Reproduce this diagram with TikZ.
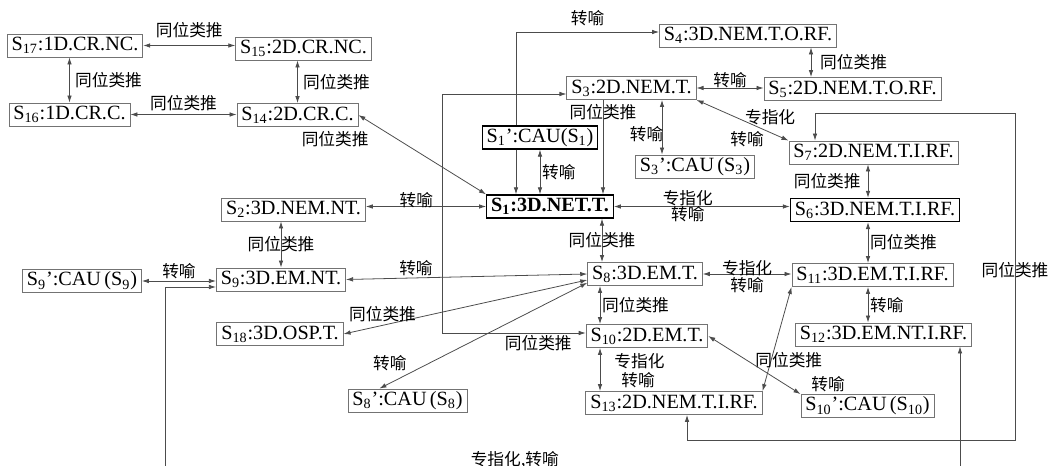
\documentclass[tikz,border=0pt]{standalone}
\usepackage{fontspec}
\setmainfont{Liberation Serif}
\newfontfamily\cjk{Noto Sans CJK SC}
\usetikzlibrary{arrows.meta}

\begin{document}
\begin{tikzpicture}[x=0.02cm,y=-0.02cm,>={Latex[length=4pt,width=2.6pt]},
			box/.style={
				draw=black!55,
				line width=0.5pt,
				inner xsep=2.5pt,
				inner ysep=0pt,
				minimum height=0.46cm,
				font=\fontsize{11.5}{13}\selectfont
			},
			keybox/.style={box,draw=black,line width=0.75pt},
			lbl/.style={inner sep=1pt,font=\cjk\fontsize{9.5}{11}\selectfont},
			link/.style={<->,draw=black!70,line width=0.45pt}]
			
			\useasboundingbox (0,0) rectangle (1051,466);
			
			\node[box](s17) at (75,45.5){S\textsubscript{17}:1D.CR.NC.};
			
			\node[box](s15) at (303.5,48.5){S\textsubscript{15}:2D.CR.NC.};
			
			\node[box](s16) at (69.5,114.5){S\textsubscript{16}:1D.CR.C.};
			
			\node[box](s14) at (297.5,115){S\textsubscript{14}:2D.CR.C.};
			
			\node[box](s4) at (748,35.5){S\textsubscript{4}:3D.NEM.T.O.RF.};
			
			\node[box](s5) at (852.5,89){S\textsubscript{5}:2D.NEM.T.O.RF.};
			
			\node[box](s3) at (631.5,88){S\textsubscript{3}:2D.NEM.T.};
			
			\node[keybox](s1p) at (540,137.5){S\textsubscript{1}’:CAU(S\textsubscript{1})};
			
			\node[box](s3p) at (695,166.5){S\textsubscript{3}’:CAU\,(S\textsubscript{3})};
			
			\node[box](s7) at (873.5,152.5){S\textsubscript{7}:2D.NEM.T.I.RF.};
			
			\node[keybox](s6) at (875,210){S\textsubscript{6}:3D.NEM.T.I.RF.};
			
			\node[keybox](s1) at (550,206.5){\textbf{S\textsubscript{1}:3D.NET.T.}};
			
			\node[box](s2) at (293.5,209.5){S\textsubscript{2}:3D.NEM.NT.};
			
			\node[box](s9p) at (82,281){S\textsubscript{9}’:CAU\,(S\textsubscript{9})};
			
			\node[box](s9) at (281,279.5){S\textsubscript{9}:3D.EM.NT.};
			
			\node[box](s18) at (280,334){S\textsubscript{18}:3D.OSP.T.};
			
			\node[box](s8p) at (407.5,400.5){S\textsubscript{8}’:CAU\,(S\textsubscript{8})};
			
			\node[box](s8) at (645,274){S\textsubscript{8}:3D.EM.T.};
			
			\node[box](s10) at (647,336){S\textsubscript{10}:2D.EM.T.};
			
			\node[box](s13) at (674,403){S\textsubscript{13}:2D.NEM.T.I.RF.};
			
			\node[box](s11) at (872.5,275){S\textsubscript{11}:3D.EM.T.I.RF.};
			
			\node[box](s12) at (883.5,334.5){S\textsubscript{12}:3D.EM.NT.I.RF.};
			
			\node[box](s10p) at (867.5,406){S\textsubscript{10}’:CAU\,(S\textsubscript{10})};
			
			% bends and columns of the connectors
			\coordinate(k1) at (516,32);
			\coordinate(k2) at (603,0);
			\coordinate(k3) at (662,0);
			\coordinate(k4) at (811,0);
			\coordinate(k5) at (868,0);
			\coordinate(k6) at (602,0);
			\coordinate(k7) at (600,0);
			\coordinate(l1) at (442,94);
			\coordinate(l2) at (442,333);
			\coordinate(r1) at (815,113);
			\coordinate(r2) at (1015,113);
			\coordinate(r3) at (1015,440);
			\coordinate(r4) at (687,440);
			\coordinate(q1) at (165,287);
			\coordinate(q2) at (165,478);
			\coordinate(q3) at (960,478);
			
			\draw[link](s17.east)--(s17.east -| s15.west) node[lbl,midway,above=3pt]{同位类推};
			
			\draw[link](s16.north)--(s16.north |- s17.south) node[lbl,midway,right=2pt]{同位类推};
			
			\draw[link](s14.north)--(s14.north |- s15.south) node[lbl,midway,right=2pt]{同位类推};
			
			\draw[link](s16.east)--(s16.east -| s14.west) node[lbl,midway,above=1pt]{同位类推};
			
			\draw[link](s14.east)--(s1.north west) node[lbl,pos=0,anchor=north east,xshift=7pt,yshift=-8pt]{同位类推};
			
			\draw[link,->](s1p.north -| k1)--(k1)--(k1 -| s4.west) node[lbl,midway,above=2pt]{转喻};
			
			\draw[link,->](s1p.south -| k1)--(s1.north -| k1);
			
			\draw[link](s1p.south)--(s1p.south |- s1.north) node[lbl,midway,right]{转喻};
			
			\draw[link,->](s3.south -| k2)--(s1.north -| k2) node[lbl,pos=0.13]{同位类推};
			
			\draw[link](s3.south -| k3)--(s3p.north -| k3) node[lbl,pos=0.62,left=-2pt]{转喻};
			
			\draw[link](s3.east)--(s3.east -| s5.west) node[lbl,midway,above=-1pt]{转喻};
			
			\draw[link](s4.south -| k4)--(s5.north -| k4) node[lbl,midway,right=4pt]{同位类推};
			
			\draw[link](s3.south east)--(s7.north west) node[lbl,pos=0.8,above=3pt]{专指化} node[lbl,pos=0.55,below=4pt]{转喻};
			
			\draw[link](s1.east)--(s1.east -| s6.west) node[lbl,pos=0.42,above=-1pt]{专指化} node[lbl,pos=0.42,below=-1pt]{转喻};
			
			\draw[link](s7.south -| k5)--(s6.north -| k5) node[lbl,midway,left=3pt]{同位类推};
			
			\draw[link](s6.south -| k5)--(s11.north -| k5) node[lbl,midway,right]{同位类推};
			
			\draw[link](s11.south -| k5)--(s12.north -| k5) node[lbl,midway,right]{转喻};
			
			\draw[link](s7.north -| r1)--(r1)--(r2)--(r3) node[lbl,pos=0.48]{同位类推}--(r4)--(s13.south -| r4);
			
			\draw[link](s1.west)--(s1.west -| s2.east) node[lbl,pos=0.58,above=-2pt]{转喻};
			
			\draw[link](l1 -| s3.west)--(l1)--(l2)--(l2 -| s10.west) node[lbl,pos=0.67,below]{同位类推};
			
			\draw[link](s9.east)--(s8.west) node[lbl,pos=0.29,above]{转喻};
			
			\draw[link](s18.east)--([yshift=-3.4pt]s8.west) node[lbl,pos=0.16,above=1pt]{同位类推};
			
			\draw[link](s8p.157)--([yshift=-5pt]s8.west) node[lbl,pos=0.05,above=6pt]{转喻};
			
			\draw[link](s1.south -| k6)--(s8.north -| k6) node[lbl,midway]{同位类推};
			
			\draw[link](s8.east)--(s8.east -| s11.west) node[lbl,midway,above=-2pt]{专指化} node[lbl,midway,below=1pt]{转喻};
			
			\draw[link](s8.south -| k7)--(s10.north -| k7) node[lbl,midway,right]{同位类推};
			
			\draw[link](s10.south -| k7)--(s13.north -| k7) node[lbl,pos=0.3,right=7pt]{专指化} node[lbl,pos=0.75,right=11pt]{转喻};
			
			\draw[link](s13.north east)--(s11.south west) node[lbl,pos=0.3,xshift=10pt]{同位类推};
			
			\draw[link](s10.east)--(s10p.north west) node[lbl,pos=1,above right,xshift=5pt]{转喻};
			
			\draw[link](s9p.east)--(s9p.east -| s9.west) node[lbl,midway,above]{转喻};
			
			\draw[link](s9.north)--(s9.north |- s2.south) node[lbl,midway]{同位类推};
			
			\draw[link](q1 -| s9.west)--(q1)--(q2)--(q3) node[lbl,pos=0.44,above=4pt]{专指化,转喻}--(s12.south -| q3);
			
		\end{tikzpicture}
\end{document}
